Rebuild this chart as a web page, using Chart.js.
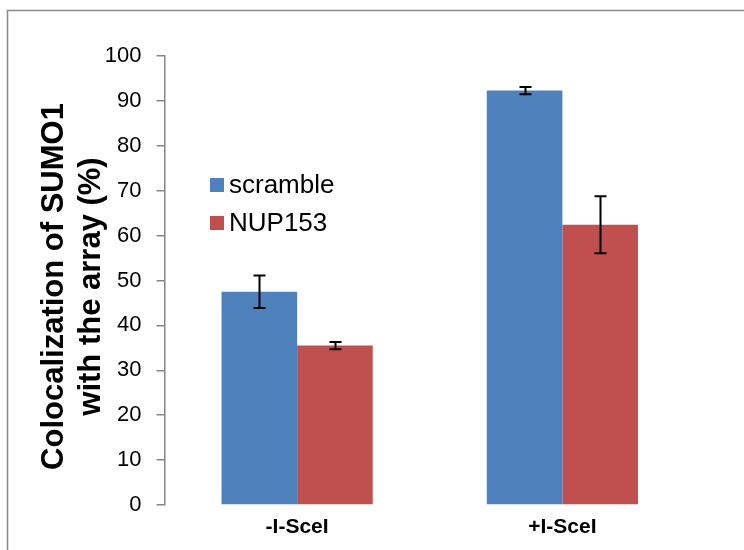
<!DOCTYPE html>
<html>
<head>
<meta charset="utf-8">
<script src="https://cdn.jsdelivr.net/npm/chart.js@4/dist/chart.umd.min.js"></script>
<style>
  html, body { margin: 0; padding: 0; background: #ffffff; }
  #wrap { width: 744px; height: 550px; position: relative; }
</style>
</head>
<body>
<div id="wrap"><canvas id="c" width="744" height="550"></canvas></div>
<script>
const categories = ['-I-SceI', '+I-SceI'];
const seriesNames = ['scramble', 'NUP153'];
const scrambleValues = [47.5, 92.3];
const scrambleErrors = [3.6, 0.8];
const nup153Values = [35.5, 62.4];
const nup153Errors = [0.8, 6.35];
const yTickMin = 0;
const yTickMax = 100;
const yTickStep = 10;
const yTitleLines = ['Colocalization of SUMO1', 'with the array (%)'];

const FONT = '"Liberation Sans", Arial, sans-serif';

const frameAndTitle = {
  id: 'frameAndTitle',
  beforeDraw(chart) {
    const ctx = chart.ctx;
    ctx.save();
    ctx.fillStyle = '#ffffff';
    ctx.fillRect(0, 0, chart.width, chart.height);
    ctx.strokeStyle = '#8a8a8a';
    ctx.lineWidth = 1.5;
    ctx.strokeRect(7.5, 10.5, 900, 700);
    ctx.restore();
  },
  afterDraw(chart) {
    const ctx = chart.ctx;
    const yScale = chart.scales.y;
    // y axis title
    ctx.save();
    ctx.fillStyle = '#000000';
    ctx.font = 'bold 31px ' + FONT;
    ctx.textAlign = 'center';
    ctx.textBaseline = 'alphabetic';
    ctx.rotate(-Math.PI / 2);
    const cy = (yScale.top + yScale.bottom) / 2 + 6;
    ctx.fillText(yTitleLines[0], -cy, 63);
    ctx.fillText(yTitleLines[1], -cy, 100);
    ctx.restore();

    // error bars
    const errs = [scrambleErrors, nup153Errors];
    ctx.save();
    ctx.strokeStyle = '#000000';
    ctx.lineWidth = 2;
    chart.data.datasets.forEach((ds, di) => {
      const meta = chart.getDatasetMeta(di);
      meta.data.forEach((bar, i) => {
        const v = ds.data[i];
        const e = errs[di][i];
        const x = Math.round(bar.x) + 0.5;
        const yTop = yScale.getPixelForValue(v + e);
        const yBot = yScale.getPixelForValue(v - e);
        ctx.beginPath();
        ctx.moveTo(x, yTop); ctx.lineTo(x, yBot);
        ctx.moveTo(x - 6, yTop); ctx.lineTo(x + 6, yTop);
        ctx.moveTo(x - 6, yBot); ctx.lineTo(x + 6, yBot);
        ctx.stroke();
      });
    });
    ctx.restore();

    // legend inside plot
    ctx.save();
    ctx.font = '26px ' + FONT;
    ctx.textBaseline = 'middle';
    ctx.textAlign = 'left';
    const lx = 210, ly0 = 185, gap = 38;
    chart.data.datasets.forEach((ds, di) => {
      const y = ly0 + di * gap;
      ctx.fillStyle = ds.backgroundColor;
      ctx.fillRect(lx, y - 7, 14, 14);
      ctx.fillStyle = '#000000';
      ctx.fillText(ds.label, lx + 19, y + 1);
    });
    ctx.restore();
  }
};

new Chart(document.getElementById('c'), {
  type: 'bar',
  data: {
    labels: categories,
    datasets: [
      { label: seriesNames[0], data: scrambleValues, backgroundColor: '#4F81BD', borderWidth: 0 },
      { label: seriesNames[1], data: nup153Values, backgroundColor: '#C0504D', borderWidth: 0 }
    ]
  },
  options: {
    responsive: false,
    animation: false,
    devicePixelRatio: 1,
    layout: { padding: { left: 0, top: 56, right: 49, bottom: 0 } },
    plugins: { legend: { display: false }, tooltip: { enabled: false }, title: { display: false } },
    datasets: { bar: { barPercentage: 1.0, categoryPercentage: 0.57 } },
    scales: {
      x: {
        offset: true,
        grid: { display: false, drawTicks: false },
        border: { display: false },
        ticks: { color: '#000000', font: { family: FONT, size: 21, weight: 'bold' }, padding: 10, maxRotation: 0 },
        afterFit(scale) { scale.height = 45; }
      },
      y: {
        min: yTickMin,
        max: yTickMax,
        grid: { display: true, drawOnChartArea: false, drawTicks: true, tickLength: 8, color: '#868686', lineWidth: 1.5 },
        border: { display: true, color: '#868686', width: 1.5 },
        ticks: { stepSize: yTickStep, color: '#000000', font: { family: FONT, size: 22 }, padding: 15 },
        afterFit(scale) { scale.width = 164.5; }
      }
    }
  },
  plugins: [frameAndTitle]
});
</script>
</body>
</html>
